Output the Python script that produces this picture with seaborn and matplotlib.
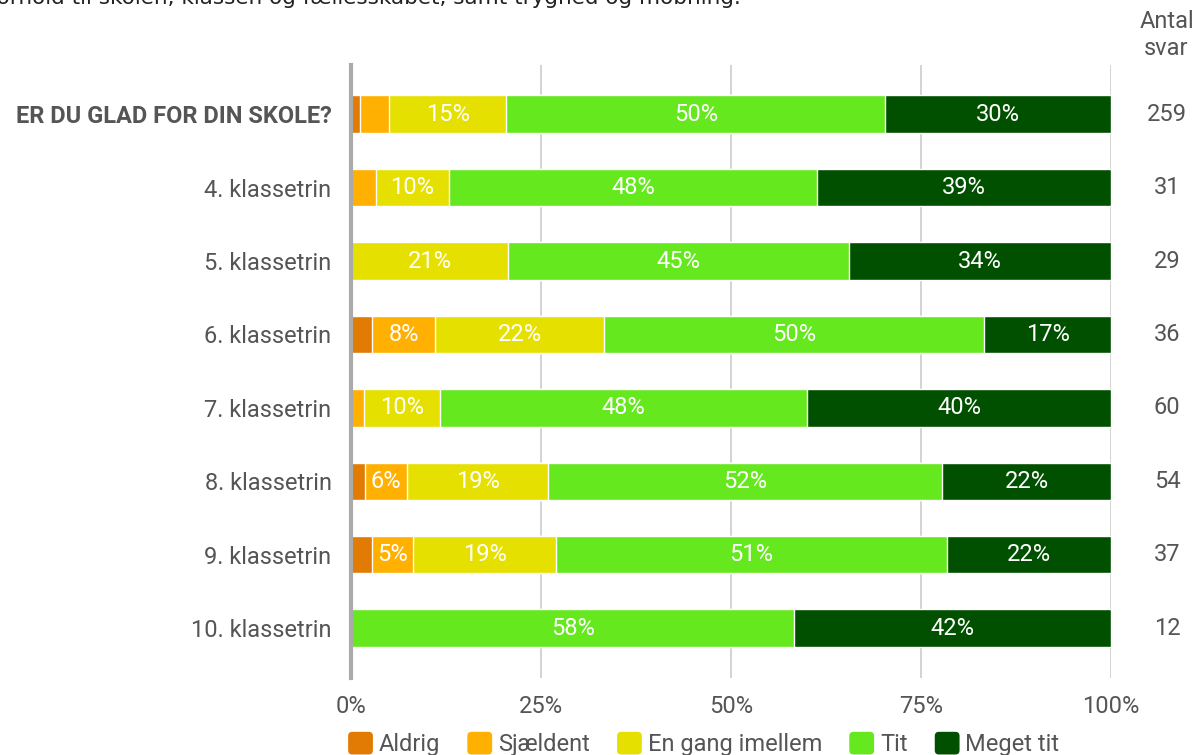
import matplotlib
matplotlib.use("Agg")
import matplotlib.pyplot as plt
import seaborn as sns
import pandas as pd
import numpy as np
from matplotlib.patches import FancyBboxPatch, Patch
from matplotlib.legend_handler import HandlerPatch

sns.set_theme(style="white")
plt.rcParams['font.family'] = ['Roboto', 'DejaVu Sans']

rows = ["ER DU GLAD FOR DIN SKOLE?", "4. klassetrin", "5. klassetrin", "6. klassetrin",
        "7. klassetrin", "8. klassetrin", "9. klassetrin", "10. klassetrin"]
categories = ["Aldrig", "Sjældent", "En gang imellem", "Tit", "Meget tit"]
aldrig = [1.16, 0.0, 0.0, 2.78, 0.0, 1.85, 2.70, 0.0]
sjaeldent = [3.86, 3.23, 0.0, 8.33, 1.67, 5.56, 5.41, 0.0]
en_gang = [15.44, 9.68, 20.69, 22.22, 10.00, 18.52, 18.92, 0.0]
tit = [49.81, 48.39, 44.83, 50.00, 48.33, 51.85, 51.35, 58.33]
meget_tit = [29.73, 38.71, 34.48, 16.67, 40.00, 22.22, 21.62, 41.67]
antal_svar = [259, 31, 29, 36, 60, 54, 37, 12]
x_ticks = [0, 25, 50, 75, 100]
x_ticklabels = ["0%", "25%", "50%", "75%", "100%"]
colors = ["#e27b03", "#ffb000", "#e6e000", "#66e81e", "#005000"]

series = [aldrig, sjaeldent, en_gang, tit, meget_tit]
df = pd.DataFrame({c: v for c, v in zip(categories, series)})
df["row"] = rows
cum = df[categories].cumsum(axis=1)

fig = plt.figure(figsize=(11.95, 7.55), dpi=100)
ax = fig.add_axes([351/1195, 1-678/755, 760/1195, 613/755])

txt = "#555555"
FS = 17
for i in range(len(categories) - 1, -1, -1):
    d = pd.DataFrame({"row": rows, "val": cum[categories[i]].values})
    sns.barplot(data=d, x="val", y="row", color=colors[i], width=0.51,
                saturation=1, ax=ax, orient="h", zorder=3)

# labels
for j, r in enumerate(rows):
    left = 0.0
    for i, c in enumerate(categories):
        v = df.loc[j, c]
        if v >= 4.5:
            ax.text(left + v / 2, j, f"{v:.0f}%", ha="center", va="center",
                    color="white", fontsize=FS, zorder=5)
        left += v
    ax.text(1.074, j, str(antal_svar[j]), transform=ax.get_yaxis_transform(),
            ha="center", va="center", color=txt, fontsize=FS)

ax.text(1.073, 1.008, "Antal\nsvar", transform=ax.transAxes, ha="center",
        va="bottom", color=txt, fontsize=FS, linespacing=1.2)

ax.set_xlim(0, 100)
ax.set_ylim(len(rows) - 1 + 0.68, -0.67)
ax.set_xticks(x_ticks)
ax.set_xticklabels(x_ticklabels, color=txt, fontsize=FS)
ax.set_yticks(range(len(rows)))
ax.set_yticklabels(rows, color=txt, fontsize=FS)
ax.get_yticklabels()[0].set_fontweight("bold")
ax.tick_params(axis="y", length=0, pad=14)
ax.tick_params(axis="x", length=0, pad=12)
ax.set_xlabel("")
ax.set_ylabel("")
for s in ["top", "right", "bottom"]:
    ax.spines[s].set_visible(False)
ax.spines["left"].set_color("#aaaaaa")
ax.spines["left"].set_linewidth(3)
ax.spines["left"].set_zorder(6)
for xv in x_ticks[1:]:
    ax.axvline(xv, color="#cccccc", lw=1.2, zorder=1)


class RoundHandler(HandlerPatch):
    def create_artists(self, legend, orig_handle, xdescent, ydescent, width, height, fontsize, trans):
        p = FancyBboxPatch((-xdescent, -ydescent), width, height,
                           boxstyle="round,pad=0,rounding_size=3",
                           facecolor=orig_handle.get_facecolor(), edgecolor="none",
                           transform=trans)
        return [p]


handles = [Patch(facecolor=c, edgecolor="none", label=l) for c, l in zip(colors, categories)]
leg = fig.legend(handles=handles, loc="center", bbox_to_anchor=(0.589, 1 - 744/755),
                 ncol=5, frameon=False, fontsize=FS, handlelength=1.05, handleheight=1.1,
                 handletextpad=0.25, columnspacing=1.15,
                 handler_map={Patch: RoundHandler()})
for t in leg.get_texts():
    t.set_color(txt)

fig.text(-0.009, 1 - 4/755, "forhold til skolen, klassen og fællesskabet, samt tryghed og mobning.",
         ha="left", va="baseline", fontsize=15.5, color="#222222", family="DejaVu Sans")

fig.savefig("out.png", dpi=100)
